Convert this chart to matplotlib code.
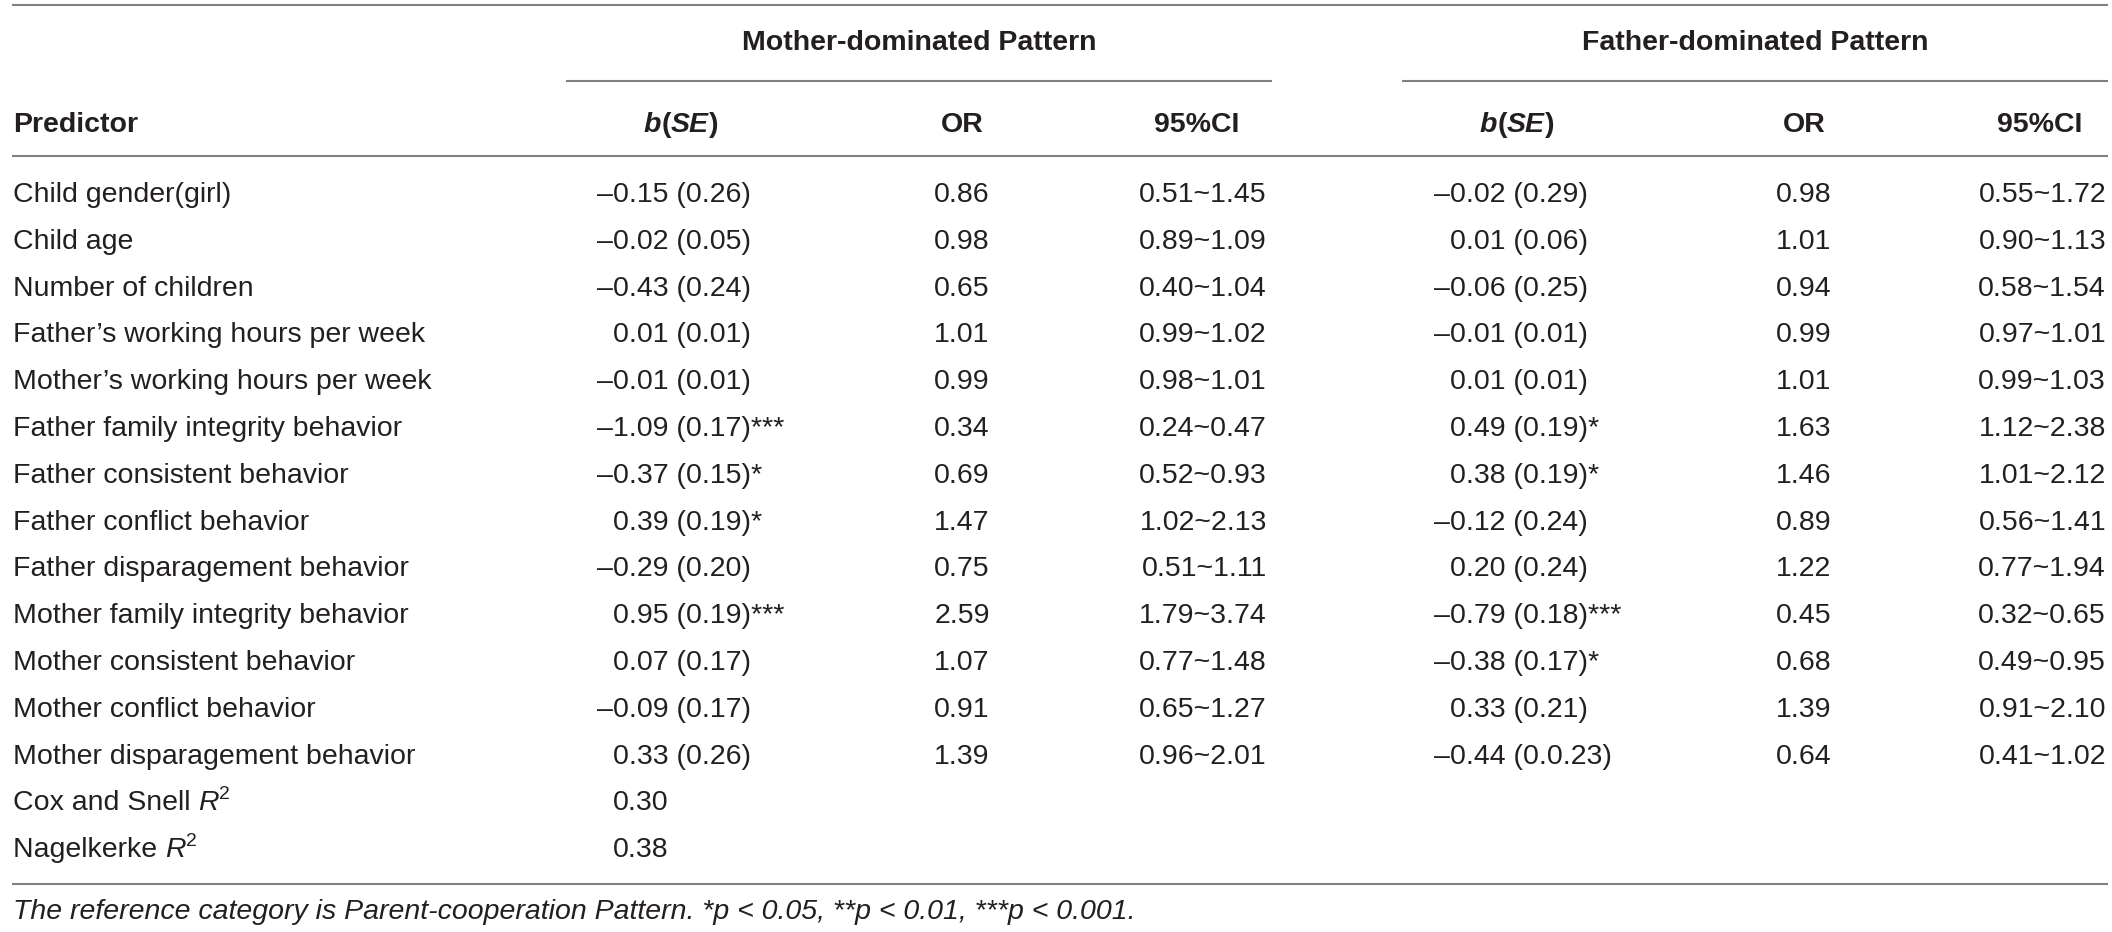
import matplotlib
matplotlib.use("Agg")
import matplotlib.pyplot as plt

plt.rcParams['font.family'] = ['Liberation Sans', 'DejaVu Sans']

# table content
predictors = [
    "Child gender(girl)", "Child age", "Number of children",
    "Father\u2019s working hours per week", "Mother\u2019s working hours per week",
    "Father family integrity behavior", "Father consistent behavior",
    "Father conflict behavior", "Father disparagement behavior",
    "Mother family integrity behavior", "Mother consistent behavior",
    "Mother conflict behavior", "Mother disparagement behavior",
]
groups = ["Mother-dominated Pattern", "Father-dominated Pattern"]

mother_b = [-0.15, -0.02, -0.43, 0.01, -0.01, -1.09, -0.37, 0.39, -0.29, 0.95, 0.07, -0.09, 0.33]
mother_se = ["0.26", "0.05", "0.24", "0.01", "0.01", "0.17", "0.15", "0.19", "0.20", "0.19", "0.17", "0.17", "0.26"]
mother_sig = ["", "", "", "", "", "***", "*", "*", "", "***", "", "", ""]
mother_or = [0.86, 0.98, 0.65, 1.01, 0.99, 0.34, 0.69, 1.47, 0.75, 2.59, 1.07, 0.91, 1.39]
mother_ci_low = [0.51, 0.89, 0.40, 0.99, 0.98, 0.24, 0.52, 1.02, 0.51, 1.79, 0.77, 0.65, 0.96]
mother_ci_high = [1.45, 1.09, 1.04, 1.02, 1.01, 0.47, 0.93, 2.13, 1.11, 3.74, 1.48, 1.27, 2.01]

father_b = [-0.02, 0.01, -0.06, -0.01, 0.01, 0.49, 0.38, -0.12, 0.20, -0.79, -0.38, 0.33, -0.44]
father_se = ["0.29", "0.06", "0.25", "0.01", "0.01", "0.19", "0.19", "0.24", "0.24", "0.18", "0.17", "0.21", "0.0.23"]
father_sig = ["", "", "", "", "", "*", "*", "", "", "***", "*", "", ""]
father_or = [0.98, 1.01, 0.94, 0.99, 1.01, 1.63, 1.46, 0.89, 1.22, 0.45, 0.68, 1.39, 0.64]
father_ci_low = [0.55, 0.90, 0.58, 0.97, 0.99, 1.12, 1.01, 0.56, 0.77, 0.32, 0.49, 0.91, 0.41]
father_ci_high = [1.72, 1.13, 1.54, 1.01, 1.03, 2.38, 2.12, 1.41, 1.94, 0.65, 0.95, 2.10, 1.02]

fit_labels = ["Cox and Snell ", "Nagelkerke "]
fit_values = [0.30, 0.38]

footnote = ("The reference category is Parent-cooperation Pattern. "
            "*p < 0.05, **p < 0.01, ***p < 0.001.")

W, H = 2112, 932
fig = plt.figure(figsize=(W / 100, H / 100), dpi=100)
ax = fig.add_axes([0, 0, 1, 1])
ax.set_xlim(0, W)
ax.set_ylim(H, 0)
ax.axis("off")
renderer = fig.canvas.get_renderer()

FS = 20.5
TXT = "#231f20"
LINE = "#808080"
DASH = "\u2013"


def runs(x, y, parts, ha="left"):
    # draw a row of differently styled pieces side by side
    made = []
    total = 0
    for s, style in parts:
        style = dict(style)
        dy = style.pop("dy", 0)
        size = style.pop("size", FS)
        t = ax.text(0, 0, s, fontsize=size, color=TXT, va="baseline", ha="left", **style)
        w = t.get_window_extent(renderer).width
        made.append((t, w, dy))
        total += w
    if ha == "center":
        cx = x - total / 2
    elif ha == "right":
        cx = x - total
    else:
        cx = x
    for t, w, dy in made:
        t.set_position((cx, y - dy))
        cx += w


def width(s):
    t = ax.text(0, 0, s, fontsize=FS)
    w = t.get_window_extent(renderer).width
    t.remove()
    return w


dash_w = width(DASH)


def bse_text(b, se, sig):
    s = f"{abs(b):.2f} ({se}){sig}"
    return (DASH + s) if b < 0 else s


x0, x1 = 12, 2108
spans = [(566, 1272), (1402, 2108)]
b_left = [597, 1434]
or_cx = [962, 1804]
ci_right = [1267, 2106]
ci_cx = [1197, 2040]
bse_cx = [681, 1517]

y_group = 40
y_sub = 81
y_head = 122
y_headline = 156
y_row0 = 192
pitch = 46.8
y_bottom = 884
y_note = 909
base = 10  # text centre to baseline

# rules
for y in (5, y_headline, y_bottom):
    ax.plot([x0, x1], [y, y], color=LINE, lw=1.5, solid_capstyle="butt")
for a, b in spans:
    ax.plot([a, b], [y_sub, y_sub], color=LINE, lw=1.5, solid_capstyle="butt")

# headers
bold = {"fontweight": "bold"}
bolditalic = {"fontweight": "bold", "fontstyle": "italic"}
for g, (a, b) in zip(groups, spans):
    runs((a + b) / 2, y_group + base, [(g, bold)], ha="center")
runs(13, y_head + base, [("Predictor", bold)])
for k in range(2):
    runs(bse_cx[k], y_head + base, [("b", bolditalic), ("(", bold), ("SE", bolditalic), (")", bold)], ha="center")
    runs(or_cx[k], y_head + base, [("OR", bold)], ha="center")
    runs(ci_cx[k], y_head + base, [("95%CI", bold)], ha="center")

# body
cols = [
    (mother_b, mother_se, mother_sig, mother_or, mother_ci_low, mother_ci_high),
    (father_b, father_se, father_sig, father_or, father_ci_low, father_ci_high),
]
for i, name in enumerate(predictors):
    yb = y_row0 + i * pitch + base
    runs(13, yb, [(name, {})])
    for k, (bs, ses, sigs, ors, lo, hi) in enumerate(cols):
        xb = b_left[k] + (0 if bs[i] < 0 else dash_w)
        runs(xb, yb, [(bse_text(bs[i], ses[i], sigs[i]), {})])
        runs(or_cx[k], yb, [(f"{ors[i]:.2f}", {})], ha="center")
        runs(ci_right[k], yb, [(f"{lo[i]:.2f}~{hi[i]:.2f}", {})], ha="right")

for j, (lab, val) in enumerate(zip(fit_labels, fit_values)):
    yb = y_row0 + (len(predictors) + j) * pitch + base
    runs(13, yb, [(lab, {}), ("R", {"fontstyle": "italic"}),
                  ("2", {"size": FS * 0.68, "dy": 11})])
    runs(b_left[0] + dash_w, yb, [(f"{val:.2f}", {})])

runs(13, y_note + base, [(footnote, {"fontstyle": "italic"})])

fig.savefig("out.png", dpi=100, facecolor="white")
